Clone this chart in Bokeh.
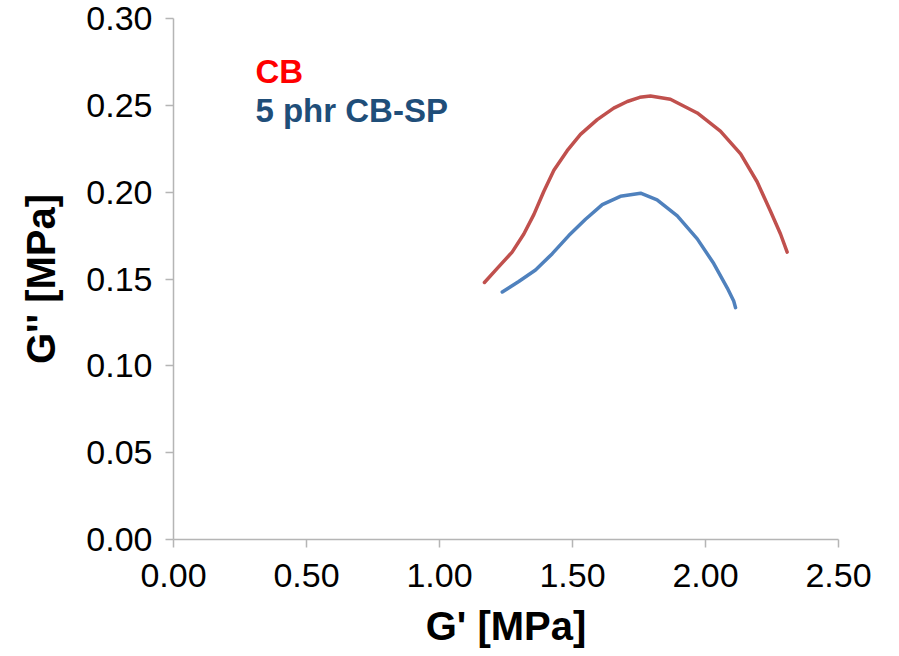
from bokeh.plotting import figure
from bokeh.models import Range1d, Label, FixedTicker, CustomJSTickFormatter
from bokeh.embed import file_html
from bokeh.resources import INLINE

# Data
cb_g1 = [1.169, 1.217, 1.273, 1.317, 1.355, 1.392, 1.430, 1.480, 1.530, 1.593, 1.655,
         1.706, 1.753, 1.793, 1.868, 1.969, 2.056, 2.132, 2.194, 2.244, 2.282, 2.307]
cb_g2 = [0.1480, 0.1561, 0.1655, 0.1759, 0.1872, 0.2004, 0.2126, 0.2239, 0.2333, 0.2418, 0.2484,
         0.2522, 0.2546, 0.2554, 0.2535, 0.2456, 0.2352, 0.2220, 0.2060, 0.1891, 0.1759, 0.1655]

sp_g1 = [1.236, 1.298, 1.361, 1.424, 1.486, 1.549, 1.612, 1.680, 1.756, 1.818, 1.894,
         1.969, 2.031, 2.082, 2.106, 2.113]
sp_g2 = [0.1425, 0.1486, 0.1552, 0.1646, 0.1750, 0.1844, 0.1928, 0.1976, 0.1994, 0.1956, 0.1863,
         0.1731, 0.1589, 0.1448, 0.1373, 0.1335]

x_ticks = [0.0, 0.5, 1.0, 1.5, 2.0, 2.5]
y_ticks = [0.0, 0.05, 0.10, 0.15, 0.20, 0.25, 0.30]

series_names = ["CB", "5 phr CB-SP"]

FONT = "Liberation Sans"
AXIS_COLOR = "#B5B5B5"

p = figure(width=890, height=650, output_backend="svg", toolbar_location=None,
           x_range=Range1d(0, 2.5), y_range=Range1d(0, 0.30),
           min_border_left=173, min_border_right=52, min_border_top=18, min_border_bottom=107)
p.outline_line_color = None
p.grid.visible = False
p.background_fill_color = "white"
p.border_fill_color = "white"

p.line(cb_g1, cb_g2, line_color="#C0504D", line_width=3.5, line_join="round", line_cap="round")
p.line(sp_g1, sp_g2, line_color="#4F81BD", line_width=3.5, line_join="round", line_cap="round")

for ax in (p.xaxis[0], p.yaxis[0]):
    ax.axis_line_color = AXIS_COLOR
    ax.axis_line_width = 1.5
    ax.major_tick_line_color = AXIS_COLOR
    ax.major_tick_line_width = 1.5
    ax.major_tick_out = 8
    ax.major_tick_in = 0
    ax.minor_tick_line_color = None
    ax.major_label_text_font = FONT
    ax.major_label_text_font_size = "34px"
    ax.major_label_text_color = "black"
    ax.axis_label_text_font = FONT
    ax.axis_label_text_font_style = "bold"
    ax.axis_label_text_font_size = "40px"
    ax.axis_label_text_color = "black"
    ax.formatter = CustomJSTickFormatter(code="return tick.toFixed(2);")

p.xaxis[0].ticker = FixedTicker(ticks=x_ticks)
p.yaxis[0].ticker = FixedTicker(ticks=y_ticks)
p.xaxis[0].axis_label = "G' [MPa]"
p.yaxis[0].axis_label = "G'' [MPa]"
p.xaxis[0].major_label_standoff = 16
p.yaxis[0].major_label_standoff = 13
p.xaxis[0].axis_label_standoff = 14
p.yaxis[0].axis_label_standoff = 20

p.add_layout(Label(x=0.308, y=0.2696, text=series_names[0], text_color="#FF0000",
                   text_font=FONT, text_font_style="bold", text_font_size="33px",
                   text_baseline="alphabetic"))
p.add_layout(Label(x=0.308, y=0.2471, text=series_names[1], text_color="#1F4E79",
                   text_font=FONT, text_font_style="bold", text_font_size="33px",
                   text_baseline="alphabetic"))

open("out.html", "w").write(file_html(p, INLINE))
